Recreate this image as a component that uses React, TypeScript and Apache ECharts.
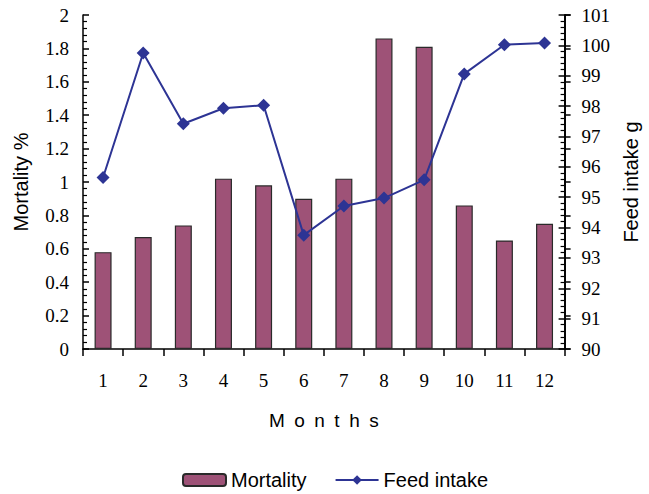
import React, { useEffect, useRef } from "react";
import * as echarts from "echarts";

const months = ["1", "2", "3", "4", "5", "6", "7", "8", "9", "10", "11", "12"];
const mortality = [0.58, 0.67, 0.74, 1.02, 0.98, 0.9, 1.02, 1.86, 1.81, 0.86, 0.65, 0.75];
const feedIntake = [95.65, 99.75, 97.42, 97.93, 98.03, 93.75, 94.71, 94.97, 95.57, 99.06, 100.02, 100.08];

const serif = "'Liberation Serif', 'Times New Roman', serif";
const sans = "'Liberation Sans', Arial, sans-serif";

export default function App() {
  const ref = useRef<HTMLDivElement>(null);
  useEffect(() => {
    if (!ref.current) return;
    const chart = echarts.init(ref.current, null, { renderer: "svg" });
    const axisLineStyle = { color: "#000", width: 1.5 };
    const leftBase = {
      type: "value",
      min: 0,
      max: 2,
      interval: 0.2,
      splitLine: { show: false },
      axisLine: { show: true, lineStyle: axisLineStyle },
    };
    const rightBase = {
      type: "value",
      min: 90,
      max: 101,
      interval: 1,
      position: "right",
      splitLine: { show: false },
      axisLine: { show: true, lineStyle: axisLineStyle },
    };
    chart.setOption({
      animation: false,
      grid: { left: 83, width: 493, top: 15, height: 334, containLabel: false },
      legend: {
        left: 177,
        top: 465,
        itemWidth: 43,
        itemHeight: 12,
        itemGap: 28,
        textStyle: { fontFamily: sans, fontSize: 20, color: "#000" },
        data: ["Mortality", "Feed intake"],
      },
      xAxis: {
        type: "category",
        data: months,
        boundaryGap: true,
        name: "M\u2002o\u2002n\u2002t\u2002h\u2002s",
        nameLocation: "middle",
        nameGap: 62,
        nameTextStyle: { fontFamily: sans, fontSize: 19, color: "#000" },
        axisLine: { show: true, lineStyle: axisLineStyle },
        axisTick: { show: true, length: 7, lineStyle: { color: "#000", width: 1.5 } },
        axisLabel: { fontFamily: serif, fontSize: 19, color: "#000", margin: 22 },
      },
      yAxis: [
        {
          ...leftBase,
          name: "Mortality %",
          nameLocation: "middle",
          nameGap: 52,
          nameRotate: 90,
          nameTextStyle: { fontFamily: sans, fontSize: 20, color: "#000" },
          axisTick: { show: true, inside: true, length: 6, lineStyle: { color: "#000", width: 1.5 } },
          minorTick: { show: true, splitNumber: 5, length: 4, lineStyle: { color: "#000", width: 1.2 } },
          axisLabel: {
            fontFamily: serif,
            fontSize: 19,
            color: "#000",
            margin: 14,
            formatter: (v: number) => String(Math.round(v * 10) / 10),
          },
        },
        {
          ...rightBase,
          name: "Feed intake g",
          nameLocation: "middle",
          nameGap: 55,
          nameRotate: 90,
          nameTextStyle: { fontFamily: sans, fontSize: 20, color: "#000" },
          axisTick: { show: true, inside: true, length: 6, lineStyle: { color: "#000", width: 1.5 } },
          minorTick: { show: true, splitNumber: 5, length: 4, lineStyle: { color: "#000", width: 1.2 } },
          axisLabel: { fontFamily: serif, fontSize: 19, color: "#000", margin: 17 },
        },
        {
          ...leftBase,
          axisTick: { show: true, inside: false, length: 6, lineStyle: { color: "#000", width: 1.5 } },
          axisLabel: { show: false },
        },
        {
          ...rightBase,
          axisTick: { show: true, inside: false, length: 6, lineStyle: { color: "#000", width: 1.5 } },
          axisLabel: { show: false },
        },
      ],
      series: [
        {
          name: "Mortality",
          type: "bar",
          data: mortality,
          yAxisIndex: 0,
          barWidth: 17,
          itemStyle: { color: "#9e5277", borderColor: "#2a2a2a", borderWidth: 1.2 },
        },
        {
          name: "Feed intake",
          type: "line",
          data: feedIntake,
          yAxisIndex: 1,
          symbol: "diamond",
          symbolSize: 13,
          lineStyle: { color: "#2d3494", width: 2 },
          itemStyle: { color: "#2d3494" },
        },
      ],
    });
    return () => chart.dispose();
  }, []);
  return (
    <div
      ref={ref}
      style={{ position: "fixed", left: 0, top: 0, width: 649, height: 494, background: "#fff" }}
    />
  );
}
